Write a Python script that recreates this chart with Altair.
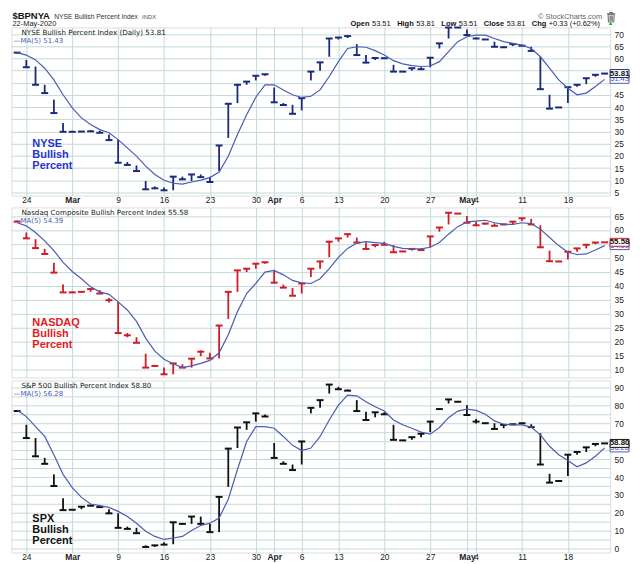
import altair as alt
import pandas as pd

# ---------------- data ----------------
tick_idx = [1, 6, 11, 16, 21, 26, 28, 31, 35, 40, 45, 49, 50, 55, 60]
tick_txt = ["24", "Mar", "9", "16", "23", "30", "Apr", "6", "13", "20", "27", "May", "4", "11", "18"]
month_idx = [6, 28, 49]

nyse_low = [62.0, 56.4, 49.2, 45.8, 37.6, 29.9, 29.9, 29.8, 29.9, 29.5,
            26.5, 17.2, 16.3, 13.8, 6.3, 6.7, 5.9, 5.9, 10.4, 9.7,
            11.3, 9.3, 13.8, 27.4, 41.7, 49.2, 51.0, 52.9, 42.0, 40.9,
            37.3, 38.7, 51.0, 55.0, 60.7, 67.8, 68.4, 61.4, 58.3, 59.4,
            59.8, 54.6, 54.4, 55.0, 55.6, 56.4, 64.1, 68.2, 72.5, 69.6,
            67.9, 67.6, 64.8, 64.5, 65.1, 65.2, 63.1, 47.4, 39.4, 39.7,
            41.7, 48.4, 49.5, 52.5, 53.51]
nyse_high = [62.6, 59.4, 56.7, 49.2, 43.1, 33.5, 30.3, 30.2, 30.6, 30.4,
             28.8, 26.7, 17.5, 16.1, 9.7, 7.5, 7.0, 11.5, 11.5, 12.4,
             12.4, 11.5, 24.3, 41.4, 49.2, 50.5, 52.9, 53.5, 48.1, 41.7,
             41.0, 43.7, 54.6, 58.4, 68.2, 68.6, 69.2, 65.9, 61.4, 60.3,
             60.3, 57.4, 54.8, 56.0, 56.4, 60.3, 66.2, 72.7, 72.9, 71.9,
             68.6, 68.0, 66.9, 65.0, 65.9, 65.7, 64.8, 60.7, 45.1, 40.1,
             48.2, 49.2, 51.9, 53.3, 53.81]
nyse_close = [62.4, 56.4, 49.2, 45.8, 37.6, 29.9, 29.9, 30.0, 30.1, 29.5,
              26.5, 17.2, 16.3, 13.8, 6.3, 6.7, 5.9, 11.5, 10.4, 12.4,
              11.3, 9.3, 24.3, 41.4, 49.2, 50.5, 52.9, 53.5, 42.0, 40.9,
              37.3, 43.7, 54.6, 58.4, 68.2, 68.6, 69.2, 61.4, 58.3, 60.2,
              60.1, 54.6, 54.6, 56.0, 55.6, 60.3, 66.2, 72.7, 72.7, 69.6,
              68.2, 67.8, 64.8, 64.6, 65.9, 65.2, 63.1, 47.4, 39.4, 39.9,
              48.2, 49.2, 51.9, 53.3, 53.81]
nyse_ma = [62.4, 61.4, 59.4, 56.0, 51.2, 45.1, 39.7, 35.6, 32.9, 30.8,
           29.5, 26.7, 23.3, 19.9, 15.8, 12.4, 10.0, 8.8, 8.4, 9.3,
           10.1, 11.1, 13.4, 19.9, 28.8, 36.9, 44.1, 49.2, 49.2, 47.1,
           45.1, 44.0, 44.5, 47.1, 52.6, 58.7, 64.1, 64.8, 64.6, 63.2,
           61.4, 59.1, 57.8, 57.1, 56.7, 56.9, 58.7, 62.8, 66.9, 68.9,
           69.6, 69.6, 68.2, 66.9, 66.2, 65.5, 64.1, 60.7, 56.0, 51.2,
           47.8, 45.1, 45.8, 48.5, 51.43]

nas_low = [62.8, 57.0, 53.5, 51.4, 44.7, 37.6, 37.6, 37.5, 37.8, 37.2,
           34.0, 23.0, 21.5, 19.5, 10.6, 10.9, 8.2, 8.2, 10.6, 10.6,
           14.7, 13.9, 13.9, 28.1, 37.8, 44.9, 46.1, 47.9, 41.1, 39.3,
           36.4, 37.2, 43.1, 46.1, 50.2, 55.8, 57.3, 55.5, 53.2, 53.8,
           54.7, 52.0, 52.1, 52.6, 52.8, 53.8, 59.4, 62.0, 65.7, 62.6,
           61.7, 61.9, 61.5, 61.7, 62.0, 63.2, 62.0, 53.8, 48.8, 48.5,
           49.4, 52.2, 53.4, 54.9, 55.4]
nas_high = [63.4, 59.1, 56.7, 53.2, 48.2, 40.4, 38.0, 38.0, 38.8, 38.4,
            35.6, 34.2, 23.0, 21.5, 15.6, 11.5, 10.6, 12.1, 11.8, 13.8,
            16.8, 15.9, 25.7, 37.8, 45.5, 46.1, 47.9, 48.4, 45.5, 40.4,
            39.2, 40.8, 46.1, 48.7, 55.8, 57.0, 58.5, 57.3, 55.5, 54.6,
            55.8, 54.6, 52.5, 53.2, 53.4, 57.7, 60.9, 66.2, 66.1, 65.0,
            62.9, 62.6, 62.4, 62.3, 63.0, 64.2, 64.0, 61.7, 52.6, 48.9,
            52.2, 53.4, 54.7, 55.5, 55.58]
nas_close = [63.0, 57.0, 53.5, 51.4, 44.7, 37.6, 37.6, 37.8, 38.8, 37.2,
             34.8, 23.0, 22.2, 19.5, 10.6, 11.2, 8.2, 12.1, 10.6, 13.8,
             16.3, 13.9, 25.7, 37.8, 45.5, 46.1, 47.9, 48.4, 41.1, 39.3,
             36.4, 40.8, 46.1, 48.7, 55.8, 57.0, 58.5, 55.5, 53.2, 54.6,
             54.7, 52.0, 52.3, 53.2, 52.8, 57.7, 60.9, 66.2, 65.9, 62.6,
             61.7, 62.3, 61.5, 62.0, 63.0, 64.2, 62.0, 53.8, 48.8, 48.7,
             52.2, 53.4, 54.7, 55.5, 55.58]
nas_ma = [62.6, 61.5, 59.1, 56.1, 52.6, 48.4, 45.1, 42.5, 39.6, 37.8,
          36.9, 34.2, 31.3, 27.2, 21.2, 16.5, 13.6, 12.0, 10.6, 11.2,
          12.1, 13.2, 15.9, 22.4, 30.7, 37.2, 40.8, 44.9, 45.5, 43.9,
          41.9, 41.0, 40.8, 42.5, 46.1, 50.2, 53.4, 55.3, 55.8, 55.5,
          55.2, 54.1, 53.4, 53.2, 53.2, 53.8, 55.5, 58.5, 61.2, 62.9,
          63.2, 63.5, 62.6, 62.0, 62.0, 62.6, 62.3, 60.3, 57.3, 54.4,
          52.0, 51.2, 51.4, 52.8, 54.39]

spx_low = [76.9, 61.8, 51.6, 47.4, 35.0, 21.5, 21.5, 22.0, 23.6, 23.2,
           19.7, 11.6, 11.0, 8.6, 0.9, 0.9, 2.2, 2.4, 13.5, 13.8,
           13.8, 9.2, 9.2, 34.5, 56.2, 66.4, 71.0, 73.8, 50.7, 47.4,
           43.9, 47.0, 75.6, 78.7, 86.7, 89.1, 88.3, 76.9, 71.9, 73.4,
           75.1, 60.8, 60.3, 60.8, 62.3, 65.1, 77.6, 81.1, 81.8, 74.7,
           69.9, 69.9, 66.9, 67.3, 69.3, 69.5, 67.9, 47.0, 36.9, 37.6,
           40.6, 52.5, 54.0, 57.2, 58.6]
spx_high = [77.5, 69.2, 61.8, 50.7, 41.5, 28.2, 22.0, 23.4, 24.4, 24.0,
            22.0, 19.7, 12.3, 11.6, 1.8, 1.8, 3.5, 14.7, 14.1, 17.9,
            17.9, 13.8, 28.9, 55.9, 67.7, 70.6, 75.6, 75.0, 59.0, 48.8,
            47.0, 59.9, 78.7, 83.0, 91.7, 90.4, 89.0, 83.0, 76.5, 76.2,
            76.2, 69.2, 60.8, 62.3, 64.2, 71.0, 78.4, 83.4, 82.3, 80.2,
            72.5, 70.3, 70.1, 69.2, 69.7, 70.1, 69.5, 64.5, 41.8, 38.0,
            52.5, 54.0, 56.6, 58.5, 58.8]
spx_close = [76.9, 61.8, 51.6, 47.4, 35.0, 21.5, 21.7, 23.4, 24.0, 23.2,
             19.7, 11.6, 11.0, 8.6, 0.9, 1.8, 2.2, 14.7, 13.8, 17.9,
             13.8, 9.2, 28.9, 55.9, 67.7, 70.6, 75.6, 73.8, 50.7, 47.4,
             43.9, 59.9, 78.7, 83.0, 91.7, 89.1, 88.3, 76.9, 71.9, 76.2,
             75.1, 60.8, 60.5, 62.3, 64.2, 71.0, 78.0, 83.4, 82.1, 74.7,
             71.0, 70.1, 66.9, 69.2, 69.5, 70.1, 67.9, 47.0, 36.9, 37.8,
             52.5, 54.0, 56.6, 58.5, 58.8]
spx_ma = [77.5, 73.8, 68.2, 62.7, 52.5, 41.5, 34.1, 28.6, 24.9, 24.0,
          23.0, 20.8, 17.9, 14.2, 9.7, 6.8, 5.1, 5.9, 6.8, 10.1,
          12.9, 14.2, 17.1, 27.6, 44.2, 59.9, 68.2, 68.2, 67.3, 62.7,
          57.7, 54.8, 56.2, 62.7, 71.9, 80.2, 85.8, 85.4, 82.1, 79.3,
          76.9, 71.9, 69.2, 67.3, 65.1, 64.0, 67.7, 73.2, 76.9, 78.0,
          77.3, 75.1, 71.4, 69.5, 69.2, 69.2, 67.9, 63.6, 57.2, 52.5,
          49.2, 45.7, 47.9, 51.6, 56.28]

header_quote = [("Open", True), ("53.51", False), ("High", True), ("53.81", False),
                ("Low", True), ("53.51", False), ("Close", True), ("53.81", False),
                ("Chg", True), ("+0.33 (+0.62%)", False)]

# ---------------- style ----------------
W = 602
X_DOMAIN = [-0.62, 64.6]
BG = "#e0f6f6"
GRID = "#c3d9d8"
MA_COLOR = "#4a5cb4"
SANS = "Liberation Sans"
VERD = "DejaVu Sans"
BOX = "M-1,-0.42L1,-0.42L1,0.42L-1,0.42Z"
TRASH = ("M-0.8,-0.62L0.8,-0.62M-0.3,-0.62L-0.3,-0.85L0.3,-0.85L0.3,-0.62"
         "M-0.6,-0.45L-0.5,0.95L0.5,0.95L0.6,-0.45Z"
         "M-0.22,-0.25L-0.22,0.75M0.0,-0.25L0.0,0.75M0.22,-0.25L0.22,0.75")

label_expr = " : ".join(f"datum.value == {i} ? '{t}'" for i, t in zip(tick_idx, tick_txt)) + " : ''"
bold_test = "indexof([" + ", ".join(str(i) for i in month_idx) + "], datum.value) >= 0"

one = pd.DataFrame({"k": [0]})


def txt(text, x, y, size=8, weight="normal", color="#222", align="left",
        baseline="alphabetic", font=SANS, line_height=None):
    kw = dict(text=text, fontSize=size, fontWeight=weight, color=color, align=align,
              baseline=baseline, font=font)
    if line_height:
        kw["lineHeight"] = line_height
    return alt.Chart(one).mark_text(**kw).encode(x=alt.value(x), y=alt.value(y))


def xenc(show_labels):
    return alt.X("idx:Q",
                 scale=alt.Scale(domain=X_DOMAIN, nice=False, zero=False),
                 axis=alt.Axis(values=tick_idx, labelExpr=label_expr, grid=True, gridColor=GRID,
                               gridWidth=1, ticks=False, domain=False, labels=show_labels,
                               labelOverlap=False, labelFlush=False, labelPadding=0.5,
                               labelFontSize=8.5, labelColor="#222", labelFont=SANS,
                               labelFontWeight={"condition": {"test": bold_test, "value": "bold"},
                                                "value": "normal"},
                               title=None))


def yenc(field, ydom, yvals, ylabel_expr):
    return alt.Y(f"{field}:Q",
                 scale=alt.Scale(domain=ydom, nice=False, zero=False),
                 axis=alt.Axis(orient="right", values=yvals, grid=True, gridColor=GRID, gridWidth=1,
                               ticks=False, domain=False, labelPadding=4, labelFontSize=8.5,
                               labelColor="#222", labelFont=SANS, title=None,
                               labelOverlap=False, labelExpr=ylabel_expr))


def panel(low, high, close, ma, color, ydom, yvals, every, height, show_x,
          legend_main, legend_ma, big_lines, big_color, big_y, close_border, extra=()):
    df = pd.DataFrame({"idx": list(range(len(close))), "low": low, "high": high,
                       "close": close, "ma": ma})
    # hide right-axis labels that sit under the two value boxes (as in the original)
    per_px = (ydom[1] - ydom[0]) / height
    thr = 8.5 * per_px
    ylabel_expr = (f"(datum.value % {every} != 0 || abs(datum.value - {close[-1]}) < {thr:.3f} || "
                   f"abs(datum.value - {ma[-1]}) < {thr:.3f}) ? '' : datum.label")
    base = alt.Chart(df)
    x = xenc(show_x)
    yl = lambda f: yenc(f, ydom, yvals, ylabel_expr)
    rules = base.mark_rule(color=color, strokeWidth=1.8).encode(x=x, y=yl("low"), y2="high:Q")
    ticks = base.mark_tick(orient="horizontal", size=7, thickness=2, color=color,
                           opacity=1).encode(x=x, y=yl("close"))
    line = base.mark_line(color=MA_COLOR, strokeWidth=1.2).encode(x=x, y=yl("ma"))
    last = base.transform_filter(f"datum.idx == {len(close) - 1}")
    bx = W + 9.5
    ma_box = last.mark_point(shape=BOX, size=361, filled=True, fill="white", stroke=MA_COLOR,
                             strokeWidth=1, opacity=1).encode(x=alt.value(bx), y=yl("ma"))
    ma_lab = last.mark_text(fontSize=7.5, color=MA_COLOR, align="center", baseline="middle",
                            font=SANS).encode(x=alt.value(bx), y=yl("ma"),
                                              text=alt.Text("ma:Q", format=".2f"))
    cl_box = last.mark_point(shape=BOX, size=361, filled=True, fill="white", stroke=close_border,
                             strokeWidth=1, opacity=1).encode(x=alt.value(bx), y=yl("close"))
    cl_lab = last.mark_text(fontSize=8, fontWeight="bold", color="#111", align="center",
                            baseline="middle", font=SANS).encode(
        x=alt.value(bx), y=yl("close"), text=alt.Text("close:Q", format=".2f"))
    leg1 = txt(legend_main, 10, 8, size=7.2, font=VERD, color="#222")
    leg2 = txt("\u2014MA(5) " + legend_ma, 2, 15.5, size=7.0, font=VERD, color=MA_COLOR)
    big = txt(big_lines, 21, big_y, size=11, weight="bold", color=big_color, line_height=11.3)
    layers = [rules, ticks, line, leg1, leg2, big, ma_box, ma_lab, cl_box, cl_lab] + list(extra)
    return alt.layer(*layers).properties(width=W, height=height)


# ---------------- header (drawn in the first panel) ----------------
AW = {'.': 278, ' ': 278, '+': 584, '(': 333, ')': 333, '%': 889, 'N': 722, 'Y': 667,
      'S': 667, 'E': 667, 'B': 667, 'u': 556, 'l': 222, 'i': 222, 's': 500, 'h': 556,
      'P': 667, 'e': 556, 'r': 333, 'c': 500, 'n': 556, 't': 278, 'I': 278, 'd': 556, 'x': 500}
AWB = {'O': 778, 'p': 611, 'e': 556, 'n': 611, 'H': 722, 'i': 278, 'g': 611, 'h': 611,
       'L': 611, 'o': 611, 'w': 778, 'C': 722, 'l': 278, 's': 556}


def tw(s, bold, size):
    table = AWB if bold else AW
    return sum(table.get(c, 556) for c in s) * size / 1000.0


HS = 7.5
widths = [tw(s, b, HS) for s, b in header_quote]
gaps = [2.5 if b else 6.5 for s, b in header_quote]
total = sum(widths) + sum(gaps[:-1]) + 3 + 6
xpos = W - 1 - total
name = "NYSE Bullish Percent Index"
NS = 6.8
header = [
    txt("$BPNYA", 1, -9, size=9.5, weight="bold", color="#111"),
    txt(name, 43, -9, size=NS, color="#333"),
    txt("INDX", 43 + tw(name, False, NS) + 4, -9, size=6, color="#555"),
    txt("22-May-2020", 1, -1.5, size=7.5, color="#222"),
    txt("\u00a9 StockCharts.com", W - 8, -9, size=7.5, color="#666", align="right"),
    alt.Chart(one).mark_point(shape=TRASH, size=110, filled=False, stroke="#666",
                              strokeWidth=1, opacity=1).encode(x=alt.value(W + 1), y=alt.value(-10.5)),
]
for (s, b), w, g in zip(header_quote, widths, gaps):
    header.append(txt(s, xpos, -1.5, size=HS, weight="bold" if b else "normal", color="#111"))
    xpos += w + g
header.append(txt("\u25b2", xpos + 1, -2, size=5.5, color="#2a9a2a"))

p1 = panel(nyse_low, nyse_high, nyse_close, nyse_ma, "#1b2a7c", [3.76, 72.73],
           list(range(5, 75, 5)), 5, 169, True,
           "NYSE Bullish Percent Index (Daily) 53.81", "51.43",
           ["NYSE", "Bullish", "Percent"], "#1f35c8", 120, "#1b2a7c", header)
p2 = panel(nas_low, nas_high, nas_close, nas_ma, "#d01c28", [7.05, 68.1],
           list(range(10, 70, 5)), 5, 171, False,
           "Nasdaq Composite Bullish Percent Index 55.58", "54.39",
           ["NASDAQ", "Bullish", "Percent"], "#e3191f", 119, "#d01c28")
p3 = panel(spx_low, spx_high, spx_close, spx_ma, "#111111", [-2.2, 94.0],
           list(range(0, 95, 5)), 10, 173, True,
           "S&P 500 Bullish Percent Index 58.80", "56.28",
           ["SPX", "Bullish", "Percent"], "#111111", 142, "#111111")

chart = alt.vconcat(p1, p2, p3, spacing=1).properties(
    padding={"left": 2.5, "top": 0, "right": 0, "bottom": 0}
).configure_view(fill=BG, stroke="#a9bdbd", strokeWidth=1).configure(background="white")

chart.save("out.html", embed_options={"renderer": "svg", "actions": False})
